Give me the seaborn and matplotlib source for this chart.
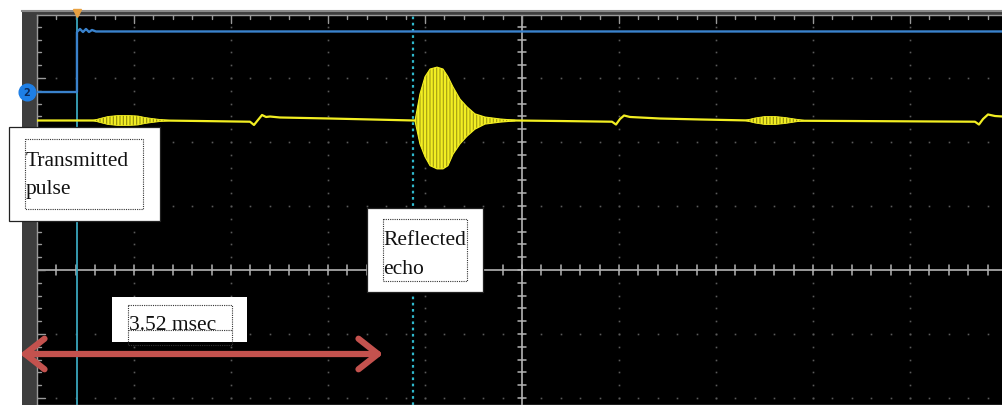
import matplotlib
matplotlib.use("Agg")
import matplotlib.pyplot as plt
import matplotlib.patches as mpatches
import numpy as np
import pandas as pd
import seaborn as sns

# ---------------- data (oscilloscope divisions) ----------------
# x: horizontal divisions from screen centre, y: vertical divisions from screen centre
ch1_x = [-5.0, -4.588, -4.423, -3.732, -3.320, -2.804, -2.763, -2.722, -2.680, -2.639,
         -2.598, -2.495, -1.979, -1.113, -0.072, 0.392, 0.928, 0.969, 1.010, 1.052,
         1.113, 1.423, 1.835, 2.351, 3.381, 4.670, 4.711, 4.753, 4.804, 4.876, 4.959]
ch1_y = [2.336, 2.336, 2.336, 2.336, 2.328, 2.317, 2.266, 2.344, 2.422, 2.391,
         2.398, 2.383, 2.367, 2.336, 2.336, 2.328, 2.317, 2.273, 2.359, 2.414,
         2.391, 2.367, 2.352, 2.336, 2.328, 2.317, 2.273, 2.359, 2.430, 2.406, 2.398]

tx_burst_x = [-4.423, -4.351, -4.268, -4.165, -4.062, -3.959, -3.887, -3.814, -3.732, -3.629]
tx_burst_amp = [0.0, 0.031, 0.0625, 0.078, 0.078, 0.070, 0.047, 0.031, 0.016, 0.0]

echo_x = [-1.103, -1.052, -1.0, -0.948, -0.876, -0.814, -0.763, -0.711, -0.639, -0.567,
          -0.485, -0.381, -0.227, -0.072]
echo_upper = [2.33, 2.75, 3.02, 3.14, 3.17, 3.14, 3.02, 2.86, 2.67, 2.55, 2.44, 2.39, 2.36, 2.34]
echo_lower = [2.33, 1.97, 1.77, 1.63, 1.58, 1.58, 1.63, 1.81, 1.97, 2.09, 2.20, 2.28, 2.31, 2.33]

late_burst_x = [2.299, 2.402, 2.505, 2.608, 2.711, 2.814, 2.918]
late_burst_amp = [0.0, 0.039, 0.0625, 0.0625, 0.047, 0.023, 0.0]

ch2_x = [-5.0, -4.588, -4.588, -4.557, -4.526, -4.495, -4.464, -4.433, -4.392, 4.959]
ch2_y = [2.781, 2.781, 3.719, 3.766, 3.719, 3.766, 3.719, 3.750, 3.727, 3.727]

trigger_x = -4.588
cursor_x = -1.124
burst_level = 2.336

label_tx = ["Transmitted", "pulse"]
label_echo = ["Reflected", "echo"]
label_time = "3.52 msec"

# ---------------- figure ----------------
sns.set_style("white")
plt.rcParams["font.family"] = ["Liberation Serif", "DejaVu Serif"]
plt.rcParams["hatch.linewidth"] = 1.6

W, H = 1003, 406
fig = plt.figure(figsize=(W / 100, H / 100), dpi=100)
fig.patch.set_facecolor("white")

# bezel (grey frame around the screen)
bezel = fig.add_axes([22 / W, 0, (W - 22) / W, (H - 12) / H])
bezel.set_facecolor("#3e3e3e")
bezel.set_xticks([]); bezel.set_yticks([])
for s in bezel.spines.values():
    s.set_visible(False)
bezel.spines["top"].set_visible(True)
bezel.spines["top"].set_color("#8a8a8a")
bezel.spines["top"].set_linewidth(1.5)

# screen
x0, x1 = (37 - 522) / 97, (W - 522) / 97
y0, y1 = (271 - H) / 64, (271 - 16) / 64
ax = fig.add_axes([37 / W, 0, (W - 37) / W, (H - 16) / H])
ax.set_facecolor("black")
ax.set_xlim(x0, x1)
ax.set_ylim(y0, y1)
ax.set_xticks([]); ax.set_yticks([])
for s in ax.spines.values():
    s.set_color("#9a9a9a"); s.set_linewidth(1.0)

# graticule dots
dot_c = "#5a5a5a"
minor_x = np.arange(-25, 26) * 0.2
minor_y = np.arange(-15, 21) * 0.2
for k in range(-4, 6):
    if k == 0:
        continue
    ax.plot(np.full_like(minor_y, k), minor_y, ls="none", marker="s", ms=1.2, mew=0,
            color=dot_c, zorder=1)
for m in range(-2, 4):
    if m == 0:
        continue
    ax.plot(minor_x, np.full_like(minor_x, m), ls="none", marker="s", ms=1.2, mew=0,
            color=dot_c, zorder=1)

# centre crosshair with ticks
cc = "#b4b4b4"
ax.axhline(0, color=cc, lw=1.2, zorder=1)
ax.axvline(0, color=cc, lw=1.2, zorder=1)
for v in minor_x:
    hl = 0.085 if abs(v - round(v)) < 1e-6 else 0.075
    ax.plot([v, v], [-hl, hl], color=cc, lw=1.1, zorder=1)
for v in minor_y:
    hw = 0.045
    ax.plot([-hw, hw], [v, v], color=cc, lw=1.1, zorder=1)

# edge ticks (top and left)
for v in minor_x:
    L = 0.12 if abs(v - round(v)) < 1e-6 else 0.07
    ax.plot([v, v], [y1, y1 - L], color="#9a9a9a", lw=1.0, zorder=1)
for v in minor_y:
    L = 0.08 if abs(v - round(v)) < 1e-6 else 0.045
    ax.plot([x0, x0 + L], [v, v], color="#9a9a9a", lw=1.0, zorder=1)

# cursors
ax.axvline(trigger_x, color="#3aa6bd", lw=1.3, zorder=2)
ax.axvline(cursor_x, color="#2fb8cc", lw=1.6, ls=(0, (1.2, 1.6)), zorder=2)

# channel 2 (blue)
sns.lineplot(x=ch2_x, y=ch2_y, ax=ax, sort=False, estimator=None, color="#3a82cc",
             linewidth=1.7, zorder=3, legend=False)

# channel 1 (yellow)
yel = "#f2ee22"
sns.lineplot(x=ch1_x, y=ch1_y, ax=ax, sort=False, estimator=None, color=yel,
             linewidth=1.6, zorder=4, legend=False)

tx_amp = np.array(tx_burst_amp)
ax.fill_between(tx_burst_x, burst_level - tx_amp, burst_level + tx_amp, facecolor="#8f8a10",
                edgecolor=yel, hatch="|||||", lw=0.6, zorder=5)
lb_amp = np.array(late_burst_amp)
ax.fill_between(late_burst_x, burst_level - lb_amp, burst_level + lb_amp, facecolor="#8f8a10",
                edgecolor=yel, hatch="|||||", lw=0.6, zorder=5)
ax.fill_between(echo_x, echo_lower, echo_upper, facecolor="#a39c14", edgecolor=yel,
                hatch="|||||", lw=0.8, zorder=5)

ax.set_xlabel(""); ax.set_ylabel("")

# ---------------- overlay (pixel coordinates) ----------------
ov = fig.add_axes([0, 0, 1, 1])
ov.set_xlim(0, W)
ov.set_ylim(H, 0)
ov.axis("off")
ov.patch.set_alpha(0)

# channel marker and trigger marker
ov.plot([27], [93], marker="o", ms=12, color="#1e7fe6", zorder=6)
ov.text(27, 93.5, "2", fontsize=7, color="#0b2a5c", ha="center", va="center",
        family=["DejaVu Sans"], fontweight="bold", zorder=7)
ov.plot([77], [14], marker="v", ms=6, color="#e8a040", zorder=6)


def box(xa, ya, xb, yb, ix0, iy0, ix1, iy1):
    ov.add_patch(mpatches.Rectangle((xa, ya), xb - xa, yb - ya, facecolor="white",
                                    edgecolor="#222222", lw=0.9, zorder=8))
    ov.add_patch(mpatches.Rectangle((ix0, iy0), ix1 - ix0, iy1 - iy0, facecolor="none",
                                    edgecolor="#333333", lw=0.8, ls=(0, (1, 1)), zorder=9))


box(9, 128, 160, 222, 25, 140, 143, 210)
ov.text(26, 166, label_tx[0], fontsize=15.5, color="#111111", va="baseline", ha="left", zorder=10)
ov.text(26, 194, label_tx[1], fontsize=15.5, color="#111111", va="baseline", ha="left", zorder=10)

box(367, 209, 483, 293, 383, 220, 467, 282)
ov.text(383, 245, label_echo[0], fontsize=15.5, color="#111111", va="baseline", ha="left", zorder=10)
ov.text(383, 274, label_echo[1], fontsize=15.5, color="#111111", va="baseline", ha="left", zorder=10)

ov.add_patch(mpatches.Rectangle((112, 298), 135, 45, facecolor="white", edgecolor="none", zorder=8))
ov.add_patch(mpatches.Rectangle((128, 306), 104, 40, facecolor="none", edgecolor="#333333",
                                lw=0.8, ls=(0, (1, 1)), zorder=9))
ov.plot([128, 232], [331, 331], color="#333333", lw=0.8, ls=(0, (1, 1)), zorder=9)
ov.text(129, 330, label_time, fontsize=15.5, color="#111111", va="baseline", ha="left", zorder=10)

# red double arrow
ov.annotate("", xy=(383, 355), xytext=(20, 355),
            arrowprops=dict(arrowstyle="<->, head_length=0.7, head_width=0.55",
                            color="#c4524e", lw=4.5, shrinkA=0, shrinkB=0,
                            mutation_scale=20, capstyle="round", joinstyle="round"),
            zorder=11)

fig.savefig("out.png", dpi=100, facecolor="white")
